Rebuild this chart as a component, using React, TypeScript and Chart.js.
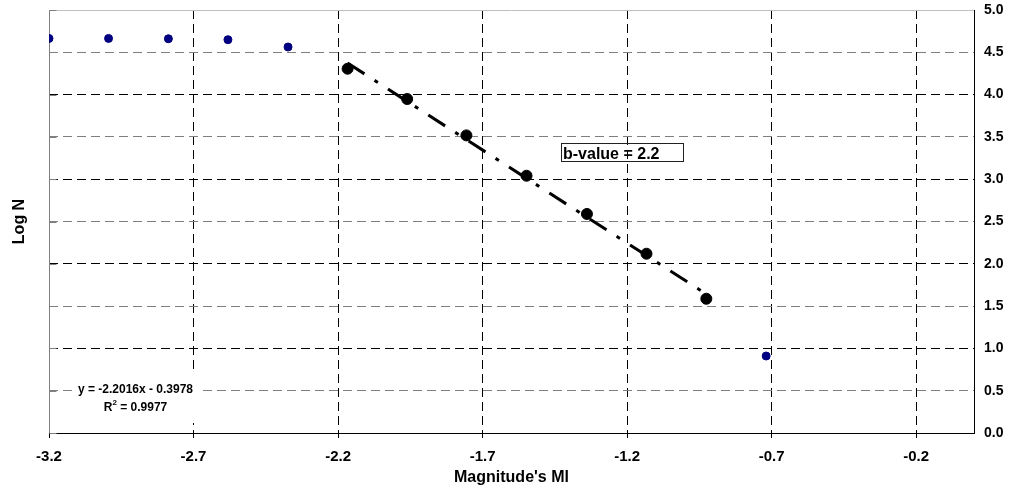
import { useEffect, useRef } from "react";
import { Chart, registerables } from "chart.js";

Chart.register(...registerables);

// ---- data ----
const xTickValues = [-3.2, -2.7, -2.2, -1.7, -1.2, -0.7, -0.2];
const yTickValues = [0, 0.5, 1, 1.5, 2, 2.5, 3, 3.5, 4, 4.5, 5];

// points outside the fitted range (navy)
const outerMag = [-3.2, -2.994, -2.787, -2.581, -2.373, -0.719];
const outerLogN = [4.664, 4.664, 4.66, 4.649, 4.563, 0.91];

// points used for the fit (black)
const fitMag = [-2.167, -1.961, -1.756, -1.548, -1.339, -1.133, -0.926];
const fitLogN = [4.306, 3.948, 3.518, 3.041, 2.589, 2.119, 1.587];

// trend line end points
const trendMag = [-2.167, -0.926];
const trendLogN = [4.373, 1.641];

const equationText = "y = -2.2016x - 0.3978";
const r2Text = "0.9977";
const bValueText = "b-value = 2.2";
const xTitle = "Magnitude's Ml";
const yTitle = "Log N";

const FONT = "'Liberation Sans', Arial, Helvetica, sans-serif";

const decorPlugin = {
  id: "decor",
  beforeDatasetsDraw(chart: any) {
    const { ctx, chartArea: a, scales } = chart;
    const ys = scales.y;
    ctx.save();
    // top border (light grey)
    ctx.lineWidth = 1;
    ctx.setLineDash([]);
    ctx.strokeStyle = "#c0c0c0";
    const ty = Math.round(a.top) + 0.5;
    ctx.beginPath();
    ctx.moveTo(a.left, ty);
    ctx.lineTo(a.right, ty);
    ctx.stroke();
    // left border (grey) with inside ticks
    ctx.strokeStyle = "#808080";
    const lx = Math.round(a.left) + 0.5;
    ctx.beginPath();
    ctx.moveTo(lx, a.top);
    ctx.lineTo(lx, a.bottom);
    ctx.stroke();
    yTickValues.forEach((v) => {
      const py = Math.round(ys.getPixelForValue(v)) + 0.5;
      ctx.beginPath();
      ctx.moveTo(lx, py);
      ctx.lineTo(lx + 7, py);
      ctx.stroke();
    });

    // b-value box (outline only)
    ctx.strokeStyle = "#222";
    ctx.strokeRect(561.5, 143.5, 122, 18);
    ctx.fillStyle = "#000";
    ctx.font = `bold 16px ${FONT}`;
    ctx.textAlign = "left";
    ctx.textBaseline = "alphabetic";
    ctx.fillText(bValueText, 563, 159);

    // regression equation with white background
    ctx.fillStyle = "#fff";
    ctx.fillRect(73, 373, 126, 50);
    ctx.fillStyle = "#000";
    ctx.font = `bold 12px ${FONT}`;
    ctx.textAlign = "center";
    ctx.fillText(equationText, 135.5, 393);
    // R² line
    ctx.textAlign = "left";
    const rW = ctx.measureText("R").width;
    const restW = ctx.measureText(" = " + r2Text).width;
    ctx.font = `bold 8px ${FONT}`;
    const supW = ctx.measureText("2").width;
    const total = rW + supW + restW;
    let sx = 135.5 - total / 2;
    ctx.font = `bold 12px ${FONT}`;
    ctx.fillText("R", sx, 410.5);
    sx += rW;
    ctx.font = `bold 8px ${FONT}`;
    ctx.fillText("2", sx, 405);
    sx += supW;
    ctx.font = `bold 12px ${FONT}`;
    ctx.fillText(" = " + r2Text, sx, 410.5);
    ctx.restore();
  },
  afterDraw(chart: any) {
    const { ctx, chartArea: a } = chart;
    ctx.save();
    ctx.fillStyle = "#000";
    ctx.font = `bold 16px ${FONT}`;
    ctx.textAlign = "center";
    ctx.textBaseline = "alphabetic";
    ctx.fillText(xTitle, (a.left + a.right) / 2, 482);
    ctx.translate(24, (a.top + a.bottom) / 2);
    ctx.rotate(-Math.PI / 2);
    ctx.fillText(yTitle, 0, 0);
    ctx.restore();
  },
};

export default function App() {
  const canvasRef = useRef<HTMLCanvasElement | null>(null);

  useEffect(() => {
    if (!canvasRef.current) return;
    const chart = new Chart(canvasRef.current, {
      type: "scatter",
      data: {
        datasets: [
          {
            label: "fit points",
            data: fitMag.map((x, i) => ({ x, y: fitLogN[i] })),
            backgroundColor: "#000",
            borderColor: "#000",
            borderWidth: 1,
            pointRadius: 5.5,
            order: 0,
          },
          {
            label: "other points",
            data: outerMag.map((x, i) => ({ x, y: outerLogN[i] })),
            backgroundColor: "#000080",
            borderColor: "#000080",
            borderWidth: 1,
            pointRadius: 4,
            order: 0,
          },
          {
            type: "line",
            label: "trend",
            data: trendMag.map((x, i) => ({ x, y: trendLogN[i] })),
            borderColor: "#000",
            borderWidth: 3,
            borderDash: [20, 12, 4, 12],
            pointRadius: 0,
            showLine: true,
            fill: false,
            order: 1,
          } as any,
        ],
      },
      options: {
        animation: false,
        responsive: false,
        devicePixelRatio: 1,
        layout: { padding: { left: 49, top: 10, right: 0, bottom: 0 } },
        plugins: {
          legend: { display: false },
          tooltip: { enabled: false },
        },
        scales: {
          x: {
            type: "linear",
            position: "bottom",
            min: -3.2,
            max: 0,
            afterBuildTicks: (scale: any) => {
              scale.ticks = xTickValues.map((value) => ({ value }));
            },
            afterFit: (scale: any) => {
              scale.height = 66;
              scale.paddingLeft = 0;
              scale.paddingRight = 0;
            },
            ticks: {
              autoSkip: false,
              maxRotation: 0,
              color: "#000",
              padding: 10,
              font: { family: FONT, size: 15, weight: "bold" },
              callback: (v: any) => Number(v).toFixed(1),
            },
            grid: {
              color: (c: any) =>
                c.tick && Math.abs(c.tick.value + 3.2) < 1e-6 ? "rgba(0,0,0,0)" : "#000",
              tickColor: "#000",
              tickLength: 5,
              lineWidth: 1,
            },
            border: { display: true, color: "#000", width: 1, dash: [9, 5] },
          },
          y: {
            type: "linear",
            position: "right",
            min: 0,
            max: 5,
            afterBuildTicks: (scale: any) => {
              scale.ticks = yTickValues.map((value) => ({ value }));
            },
            afterFit: (scale: any) => {
              scale.width = 35;
              scale.paddingTop = 0;
              scale.paddingBottom = 0;
            },
            ticks: {
              color: "#000",
              padding: 10,
              font: { family: FONT, size: 14, weight: "bold" },
              callback: (v: any) => Number(v).toFixed(1),
            },
            grid: {
              drawTicks: false,
              lineWidth: 1,
              color: (c: any) => {
                if (!c.tick) return "#000";
                const v = c.tick.value;
                if (v === 0 || v === 5) return "rgba(0,0,0,0)";
                return Number.isInteger(v) ? "#000" : "#7f7f7f";
              },
            },
            border: { display: true, color: "#000", width: 1, dash: [9, 5] },
          },
        },
      },
      plugins: [decorPlugin],
    });
    return () => chart.destroy();
  }, []);

  return (
    <div style={{ position: "absolute", left: 0, top: 0, width: 1009, height: 499, background: "#fff" }}>
      <canvas ref={canvasRef} width={1009} height={499} style={{ display: "block" }} />
    </div>
  );
}
